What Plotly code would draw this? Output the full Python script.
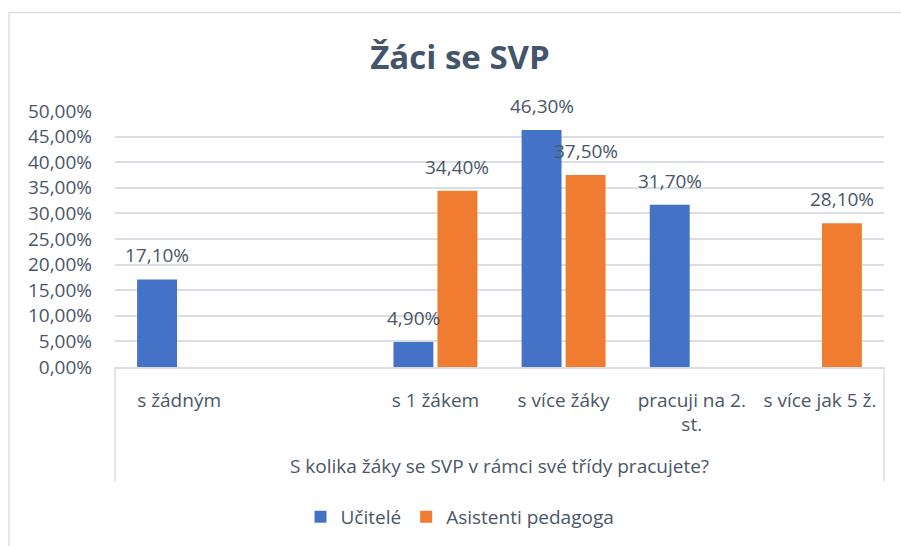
import plotly.graph_objects as go

# Survey answers (share of respondents)
categories = ["s žádným", " ", "s 1 žákem", "s více žáky", "pracuji na 2. st.", "s více jak 5 ž."]
tick_labels = ["s žádným", "", "s 1 žákem", "s více žáky", "pracuji na 2.<br>st.", "s více jak 5 ž."]
ucitele = [0.171, None, 0.049, 0.463, 0.317, None]
asistenti = [None, None, 0.344, 0.375, None, 0.281]
series_names = ["Učitelé", "Asistenti pedagoga"]

TITLE = "Žáci se SVP"
AXIS_TITLE = "S kolika žáky se SVP v rámci své třídy pracujete?"

FONT = "Open Sans, Noto Sans, sans-serif"
FS = 19
TEXT_COLOR = "#4b5667"
TITLE_COLOR = "#44546A"
GRID_COLOR = "#dadee4"
BLUE = "#4472c6"
ORANGE = "#f07c31"

W, H = 901, 546
L, R, T, B = 115, 17, 111, 178
plot_w = W - L - R
plot_h = H - T - B

BARGAP = 0.313
BARGROUPGAP = 0.093


def px_to_paper_x(px):
    return (px - L) / plot_w


def px_to_paper_y(py):
    return (H - B - py) / plot_h


fig = go.Figure()
for name, vals, color in [(series_names[0], ucitele, BLUE), (series_names[1], asistenti, ORANGE)]:
    fig.add_trace(go.Bar(
        name=name, x=categories, y=vals,
        marker=dict(color=color, line=dict(width=0)),
    ))

# value labels above each bar, placed over the centre of its slot in the group
slot_px = plot_w / len(categories) * (1 - BARGAP) / 2
annotations = []
for vals, sign in [(ucitele, -1), (asistenti, 1)]:
    for cat, v in zip(categories, vals):
        if v is None:
            continue
        annotations.append(dict(
            x=cat, y=v, xref="x", yref="y",
            text=f"{v * 100:.2f}%".replace(".", ","),
            showarrow=False, xanchor="center", yanchor="middle",
            xshift=sign * slot_px / 2, yshift=24,
            font=dict(family=FONT, size=FS, color=TEXT_COLOR),
        ))

annotations.append(dict(
    x=0.5, y=px_to_paper_y(467), xref="paper", yref="paper",
    text=AXIS_TITLE, showarrow=False, xanchor="center", yanchor="middle",
    font=dict(family=FONT, size=FS, color=TEXT_COLOR),
))

shapes = [
    # frame of the category axis box
    dict(type="line", xref="paper", yref="paper", x0=0, x1=0,
         y0=0, y1=px_to_paper_y(483), line=dict(color=GRID_COLOR, width=1.5)),
    dict(type="line", xref="paper", yref="paper", x0=1, x1=1,
         y0=0, y1=px_to_paper_y(483), line=dict(color=GRID_COLOR, width=1.5)),
    # chart area border
    dict(type="line", xref="paper", yref="paper",
         x0=px_to_paper_x(9), x1=px_to_paper_x(W + 5),
         y0=px_to_paper_y(12), y1=px_to_paper_y(12),
         line=dict(color=GRID_COLOR, width=1.5)),
    dict(type="line", xref="paper", yref="paper",
         x0=px_to_paper_x(9), x1=px_to_paper_x(9),
         y0=px_to_paper_y(12), y1=px_to_paper_y(H + 5),
         line=dict(color=GRID_COLOR, width=1.5)),
]

fig.update_layout(
    width=W, height=H,
    margin=dict(l=L, r=R, t=T, b=B),
    paper_bgcolor="white", plot_bgcolor="white",
    separators=", ",
    barmode="group", bargap=BARGAP, bargroupgap=BARGROUPGAP,
    title=dict(text=f"<b>{TITLE}</b>", x=460 / W, xref="container", xanchor="center",
               y=1 - 57 / H, yref="container", yanchor="middle",
               font=dict(family=FONT, size=33, color=TITLE_COLOR)),
    font=dict(family=FONT, size=FS, color=TEXT_COLOR),
    showlegend=True,
    legend=dict(orientation="h", x=px_to_paper_x(460), xanchor="center",
                y=px_to_paper_y(517), yanchor="middle",
                font=dict(family=FONT, size=FS, color=TEXT_COLOR),
                bgcolor="rgba(0,0,0,0)"),
    annotations=annotations,
    shapes=shapes,
)

fig.update_xaxes(
    type="category", categoryorder="array", categoryarray=categories,
    tickvals=categories, ticktext=tick_labels,
    showgrid=False, showline=True, linecolor=GRID_COLOR, linewidth=1.5,
    ticks="", ticklabelstandoff=15, tickangle=0,
    tickfont=dict(family=FONT, size=FS, color=TEXT_COLOR),
)
fig.update_yaxes(
    range=[0, 0.5], dtick=0.05, tick0=0, tickformat=".2%",
    showgrid=True, gridcolor=GRID_COLOR, gridwidth=1.5,
    zeroline=False, showline=False, ticks="", ticklabelstandoff=22,
    tickfont=dict(family=FONT, size=FS, color=TEXT_COLOR),
)

fig.write_html("out.html")
